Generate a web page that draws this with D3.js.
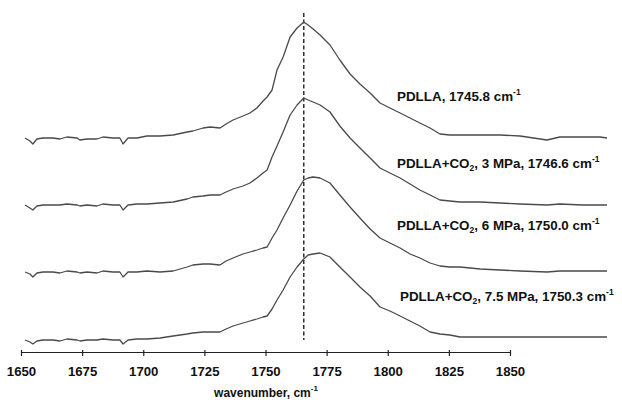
<!DOCTYPE html>
<html>
<head>
<meta charset="utf-8">
<script src="https://cdn.jsdelivr.net/npm/d3@7"></script>
<style>
  html, body { margin: 0; padding: 0; background: #fff; }
  svg { display: block; }
  text { font-family: "Liberation Sans", Arial, sans-serif; font-weight: bold; fill: #111; }
</style>
</head>
<body>
<svg id="chart" width="622" height="411"></svg>
<script>
// ---- data (arbitrary absorbance units) ----
const wavenumbers = [1650,1651.7,1652.7,1654.1,1656.2,1659.6,1662.0,1664.4,1667.9,1668.9,1671.3,1674.7,1676.8,1680.2,1682.6,1683.7,1685.4,1688.5,1691.9,1696.4,1700.9,1705.7,1707.7,1711.2,1713.6,1717.0,1719.1,1721.5,1724.9,1727.3,1729.7,1731.8,1733.2,1734.9,1736.6,1738.7,1741.1,1743.5,1745.8,1747.3,1749.0,1751.4,1754.8,1758.2,1761.7,1765.1,1768.6,1772.0,1775.4,1778.9,1782.3,1785.7,1789.2,1792.6,1796.0,1799.5,1806.4,1813.2,1820.1,1829.4,1833.8,1841.7,1847.6,1850];

const pdlla = [0,-3,-6,-1,0, 0,-1,1,0,-2, -1,-1,1,0,0, -6,0,0,2,2, 3,6,7,10,11, 10,14,18,22,25, 30,37,41,48,68, 81,101,110,116,113, 109,103,93,78,64, 54,45,35,30,25, 20,15,10,4,3, 3,3,3,2,-2, 1,1,1,0];
const co2_3MPa = [0,-3,-5,-1,0, 0,0,1,0,-1, 0,-1,1,0,0, -5,0,1,1,2, 3,6,8,9,10, 10,13,16,19,22, 27,32,35,48,59, 73,90,100,107,105, 103,100,93,79,67, 57,47,37,32,27, 21,15,10,5,4, 3,3,2,1,0, 1,0,0,0];
const co2_6MPa = [0,-2,-5,-1,0, 0,-1,1,0,-1, 0,-1,1,0,0, -5,0,0,1,0, 1,5,7,8,8, 7,11,14,18,20, 22,24,25,34,42, 54,67,81,92,94, 95,94,89,77,65, 54,43,34,29,24, 18,14,9,6,5, 5,3,2,1,0, 1,1,1,1];
const co2_7_5MPa = [0,-2,-4,-1,0, 0,-1,1,0,-1, 0,0,1,0,0, -4,0,1,1,2, 4,6,7,8,8, 8,11,14,17,19, 21,23,24,31,40, 50,63,73,81,85, 86,87,83,73,63, 53,44,33,29,24, 19,14,8,6,5, 3,3,3,3,3, 3,3,3,3];

const seriesValues = [pdlla, co2_3MPa, co2_6MPa, co2_7_5MPa];
const seriesOffsets = [202, 135, 68, 0];   // vertical stacking offsets
const peakPositions = ["1745.8", "1746.6", "1750.0", "1750.3"];
const pressures = [null, "3", "6", "7.5"];
const referencePeak = 1745.8;

const tickValues = [1650,1675,1700,1725,1750,1775,1800,1825,1850];
const axisTitle = "wavenumber, cm";

// ---- layout ----
const svg = d3.select("#chart");
const xAxisScale = d3.scaleLinear().domain([1650, 1850]).range([21, 510]);
const xData = d3.scaleLinear().domain([1650, 1850]).range([25, 607]);
const y = d3.scaleLinear().domain([0, 340]).range([340, 0]);

const line = d3.line()
  .x(d => xData(d[0]))
  .y(d => y(d[1]));

// reference dashed line
svg.append("line")
  .attr("x1", xData(referencePeak)).attr("x2", xData(referencePeak))
  .attr("y1", 13).attr("y2", y(0))
  .attr("stroke", "#222").attr("stroke-width", 1.4)
  .attr("stroke-dasharray", "4,2.5");

// spectra
seriesValues.forEach((vals, i) => {
  const pts = wavenumbers.map((w, k) => [w, vals[k] + seriesOffsets[i]]);
  svg.append("path")
    .datum(pts)
    .attr("d", line)
    .attr("fill", "none")
    .attr("stroke", "#4a4a4a")
    .attr("stroke-width", 1.3)
    .attr("stroke-linejoin", "round");
});

// labels
const labelPos = [[397, 101], [397, 168], [397, 230], [400, 301]];
seriesValues.forEach((vals, i) => {
  const t = svg.append("text")
    .attr("x", labelPos[i][0]).attr("y", labelPos[i][1])
    .attr("font-size", 13.4);
  if (pressures[i] === null) {
    t.append("tspan").text("PDLLA, " + peakPositions[i] + " cm");
  } else {
    t.append("tspan").text("PDLLA+CO");
    t.append("tspan").attr("font-size", 8.5).attr("dy", 3).text("2");
    t.append("tspan").attr("dy", -3).text(", " + pressures[i] + " MPa, " + peakPositions[i] + " cm");
  }
  t.append("tspan").attr("font-size", 8.5).attr("dy", -6).text("-1");
});

// x axis
const axis = d3.axisBottom(xAxisScale)
  .tickValues(tickValues)
  .tickFormat(d3.format("d"))
  .tickSizeInner(5)
  .tickSizeOuter(0);
const gAxis = svg.append("g")
  .attr("transform", "translate(0,352)")
  .call(axis);
gAxis.select(".domain").attr("stroke", "#222").attr("stroke-width", 1.2);
gAxis.selectAll(".tick line").attr("stroke", "#222").attr("stroke-width", 1.2).attr("y1", -2).attr("y2", 4);
gAxis.selectAll(".tick text")
  .attr("y", 15)
  .attr("font-size", 13.2)
  .attr("font-family", "'Liberation Sans', Arial, sans-serif")
  .attr("font-weight", "bold")
  .attr("fill", "#111");

// axis title
const title = svg.append("text")
  .attr("x", 266).attr("y", 397)
  .attr("text-anchor", "middle")
  .attr("font-size", 12);
title.append("tspan").text(axisTitle);
title.append("tspan").attr("font-size", 8).attr("dy", -6).text("-1");
</script>
</body>
</html>
